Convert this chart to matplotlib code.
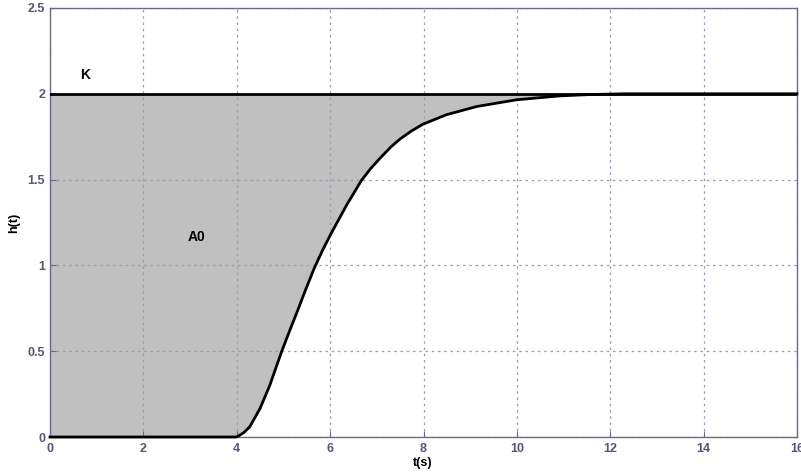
import numpy as np
import matplotlib
matplotlib.use("Agg")
import matplotlib.pyplot as plt

# Data
t = [0, 3.98, 4.03, 4.15, 4.28, 4.5, 4.71, 4.96, 5.14, 5.28, 5.47, 5.67, 5.85, 6.0, 6.35, 6.67,
     6.87, 7.07, 7.3, 7.49, 7.74, 7.99, 8.49, 9.14, 9.99, 10.92, 11.6, 12.3, 14.0, 16.0]
h = [0, 0.0, 0.005, 0.025, 0.06, 0.167, 0.303, 0.497, 0.624, 0.72, 0.855, 0.99, 1.095, 1.175, 1.35, 1.495,
     1.565, 1.625, 1.69, 1.735, 1.783, 1.823, 1.878, 1.926, 1.965, 1.988, 1.996, 2.0, 2.0, 2.0]
K = 2.0
xticks = [0, 2, 4, 6, 8, 10, 12, 14, 16]
yticks = [0, 0.5, 1, 1.5, 2, 2.5]
ytick_labels = ["0", "0.5", "1", "1.5", "2", "2.5"]

plt.rcParams['font.family'] = ['Liberation Sans', 'DejaVu Sans']

fig = plt.figure(figsize=(8.01, 4.73), dpi=100)
ax = fig.add_axes([50/801, 36/473, 747/801, 429/473])

axis_col = "#6a6a8a"
tick_col = "#55557a"

ta = np.array(t)
ha = np.array(h)
ax.fill_between(ta, ha, K, where=ta <= 12.3, color="#c0c0c0", lw=0, zorder=1)
ax.axhline(K, color="black", lw=2, zorder=4)
ax.plot(ta, ha, color="black", lw=2, zorder=5, clip_on=False,
        solid_joinstyle="round")

ax.set_xlim(0, 16)
ax.set_ylim(0, 2.5)
ax.set_xticks(xticks)
ax.set_yticks(yticks)
ax.set_yticklabels(ytick_labels)
ax.grid(True, linestyle=(0, (2, 3)), color="#9a9ab0", lw=0.9, zorder=2)
ax.set_axisbelow(False)
for s in ax.spines.values():
    s.set_color(axis_col)
    s.set_linewidth(1.0)
    s.set_zorder(3)
ax.tick_params(direction="in", length=4, color=axis_col, labelcolor=tick_col,
               labelsize=9, top=False, right=False)
ax.tick_params(axis="x", pad=4)
for lab in ax.get_xticklabels() + ax.get_yticklabels():
    lab.set_fontweight("bold")

ax.text(0.75, 2.11, "K", fontsize=10, fontweight="bold", ha="center", va="center", zorder=6)
ax.text(3.13, 1.166, "A0", fontsize=10, fontweight="bold", ha="center", va="center", zorder=6)
ax.set_xlabel("t(s)", fontsize=9, fontweight="bold")
ax.set_ylabel("h(t)", fontsize=9, fontweight="bold")
ax.xaxis.set_label_coords((423 - 50) / 747, -20 / 429)
ax.yaxis.set_label_coords((20 - 50) / 747, 0.5)

fig.savefig("out.png", dpi=100)
